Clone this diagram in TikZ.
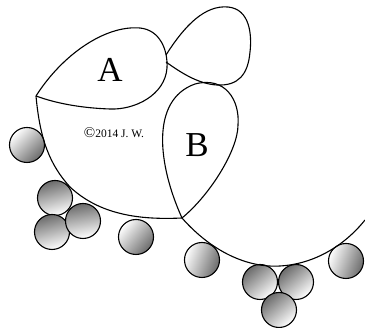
\documentclass[tikz,border=0pt]{standalone}
\usepackage{fontspec}
\setmainfont{Liberation Serif}
\usepackage{tikz}

\begin{document}
\begin{tikzpicture}[x=1pt, y=-1pt,
    blob/.style={draw=black, line width=1.1pt},
    ball/.style={circle, draw=black, line width=1.1pt, minimum size=35pt, inner sep=0pt},
    ballup/.style={ball, top color=white, bottom color=black!58, shading angle=#1},
    ballup/.default={45},
    balldown/.style={ball, top color=black!58, bottom color=white, shading angle=#1},
    balldown/.default={15},
    letter/.style={font=\fontsize{35}{35}\selectfont, inner sep=0pt}
]
\useasboundingbox (0,0) rectangle (365,328);

% Balls, left group
\node[ballup=45] (b1) at (27,145) {};
\node[balldown] (b2) at (55,198) {};
\node[balldown] (b3) at (52,232) {};
\node[balldown=10] (b4) at (83,221) {};
\node[ballup=50] (b5) at (136,237) {};

% Balls, right group
\node[ballup=70] (b6) at (202,260) {};
\node[balldown=40] (b7) at (260,282) {};
\node[balldown=40] (b8) at (296,282) {};
\node[balldown=40] (b9) at (279,310) {};
\node[ballup=70] (b10) at (346,261) {};

% Petal A
\draw[blob] (36,96) .. controls (62,55) and (105,25) .. (140,28)
  .. controls (160,30) and (168,50) .. (167,68)
  .. controls (165,95) and (135,110) .. (110,109)
  .. controls (80,108) and (55,103) .. (36,96);

% Small petal
\draw[blob] (166,55) .. controls (185,25) and (205,5) .. (228,7)
  .. controls (250,9) and (252,35) .. (250,52)
  .. controls (248,75) and (238,86) .. (217,85)
  .. controls (198,84) and (180,72) .. (166,62);

% Petal B
\draw[blob] (182,218) .. controls (158,165) and (150,100) .. (195,84)
  .. controls (225,76) and (240,100) .. (238,125)
  .. controls (238,150) and (210,195) .. (182,218);

% Lower edge of the fan
\draw[blob] (36,96) .. controls (40,140) and (50,165) .. (70,187)
  .. controls (100,215) and (140,220) .. (182,218);

% Big arc
\draw[blob] (182,218) .. controls (212,252) and (248,268) .. (280,266)
  .. controls (315,264) and (345,245) .. (365,220);

% Labels
\node[letter] (labA) at (110,70) {A};
\node[letter] (labB) at (197,145) {B};
\node[inner sep=0pt] (copy) at (114,133) {{\fontsize{15}{15}\selectfont ©}\fontsize{11.5}{11.5}\selectfont 2014 J.~W.};

\end{tikzpicture}
\end{document}
